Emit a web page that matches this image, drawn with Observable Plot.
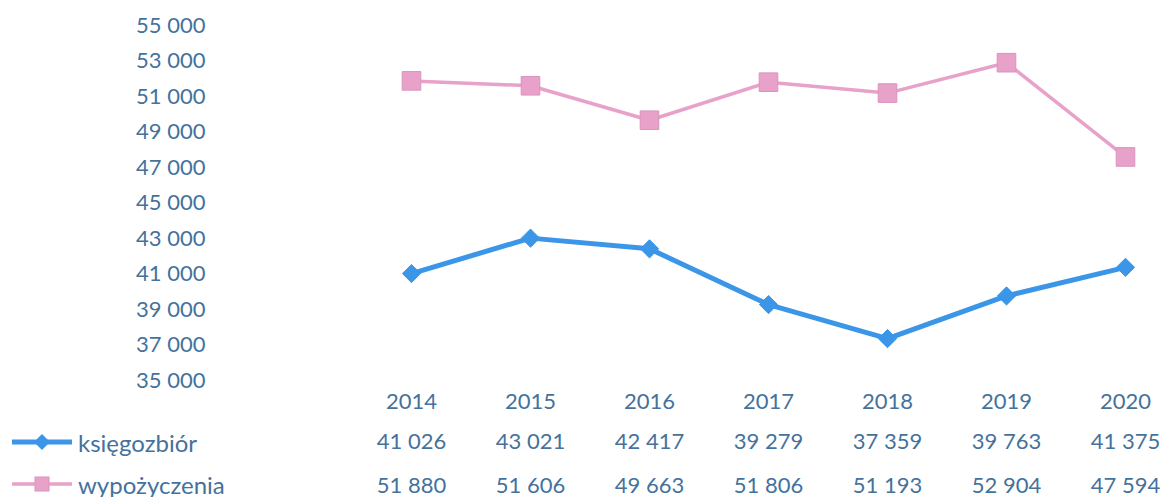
<!DOCTYPE html>
<html>
<head>
<meta charset="utf-8">
<script src="https://cdn.jsdelivr.net/npm/d3@7"></script>
<script src="https://cdn.jsdelivr.net/npm/@observablehq/plot@0.6"></script>
<style>
  html, body { margin: 0; padding: 0; background: #fff; }
  #wrap { position: relative; width: 1168px; height: 497px; overflow: hidden; font-family: Lato, "Open Sans", sans-serif; }
  .leg { position: absolute; left: 12px; display: flex; align-items: center; color: #44729d; font-size: 24px; height: 30px; }
  .leg svg { display: block; margin-right: 4px; }
</style>
</head>
<body>
<div id="wrap"></div>
<script>
const years = ["2014", "2015", "2016", "2017", "2018", "2019", "2020"];
const ksiegozbior = [41026, 43021, 42417, 39279, 37359, 39763, 41375];
const wypozyczenia = [51880, 51606, 49663, 51806, 51193, 52904, 47594];
const yTicks = [35000, 37000, 39000, 41000, 43000, 45000, 47000, 49000, 51000, 53000, 55000];
const seriesNames = ["księgozbiór", "wypożyczenia"];

const BLUE = "#3b96e8";
const PINK = "#e8a2ca";
const TEXT = "#44729d";

const locale = d3.formatLocale({decimal: ",", thousands: "\u00a0", grouping: [3], currency: ["", ""]});
const fmt = locale.format(",d");

const rowsK = years.map((y, i) => ({year: y, value: ksiegozbior[i]}));
const rowsW = years.map((y, i) => ({year: y, value: wypozyczenia[i]}));

const chart = Plot.plot({
  width: 1168,
  height: 497,
  marginTop: 25,
  marginBottom: 117,
  marginLeft: 215,
  marginRight: 0,
  style: {fontFamily: "Lato, 'Open Sans', sans-serif", fontSize: "22px", color: TEXT, background: "transparent"},
  x: {type: "point", domain: years, range: [410, 1126], padding: 0, axis: null},
  y: {domain: [35000, 55000], range: [380, 25], axis: null},
  marks: [
    Plot.axisY({ticks: yTicks, tickFormat: fmt, tickSize: 0, tickPadding: 10, fill: TEXT, label: null}),
    Plot.line(rowsW, {x: "year", y: "value", stroke: PINK, strokeWidth: 3.5}),
    Plot.dot(rowsW, {x: "year", y: "value", symbol: "square", r: 10.5, fill: PINK, stroke: "#d993bd", strokeWidth: 1}),
    Plot.line(rowsK, {x: "year", y: "value", stroke: BLUE, strokeWidth: 5}),
    Plot.dot(rowsK, {x: "year", y: "value", symbol: "diamond2", r: 8.2, fill: BLUE, stroke: BLUE, strokeWidth: 1}),
    Plot.text(years, {x: d => d, text: d => d, frameAnchor: "bottom", lineAnchor: "middle", dy: 21, fill: TEXT}),
    Plot.text(rowsK, {x: "year", text: d => fmt(d.value), frameAnchor: "bottom", lineAnchor: "middle", dy: 61, fill: TEXT}),
    Plot.text(rowsW, {x: "year", text: d => fmt(d.value), frameAnchor: "bottom", lineAnchor: "middle", dy: 105, fill: TEXT})
  ]
});

const wrap = document.getElementById("wrap");
wrap.appendChild(chart);

function legendItem(name, color, shape, top) {
  const div = document.createElement("div");
  div.className = "leg";
  div.style.top = top + "px";
  const ns = "http://www.w3.org/2000/svg";
  const svg = document.createElementNS(ns, "svg");
  svg.setAttribute("width", 62);
  svg.setAttribute("height", 20);
  const line = document.createElementNS(ns, "line");
  line.setAttribute("x1", 0); line.setAttribute("x2", 60);
  line.setAttribute("y1", 10); line.setAttribute("y2", 10);
  line.setAttribute("stroke", color);
  line.setAttribute("stroke-width", shape === "diamond" ? 5 : 3.5);
  svg.appendChild(line);
  if (shape === "diamond") {
    const p = document.createElementNS(ns, "path");
    p.setAttribute("d", "M30,2 L38,10 L30,18 L22,10 Z");
    p.setAttribute("fill", color);
    svg.appendChild(p);
  } else {
    const r = document.createElementNS(ns, "rect");
    r.setAttribute("x", 23); r.setAttribute("y", 3);
    r.setAttribute("width", 14); r.setAttribute("height", 14);
    r.setAttribute("fill", color);
    r.setAttribute("stroke", "#d993bd");
    svg.appendChild(r);
  }
  div.appendChild(svg);
  const span = document.createElement("span");
  span.textContent = name;
  div.appendChild(span);
  wrap.appendChild(div);
}
legendItem(seriesNames[0], BLUE, "diamond", 427);
legendItem(seriesNames[1], PINK, "square", 469);
</script>
</body>
</html>
